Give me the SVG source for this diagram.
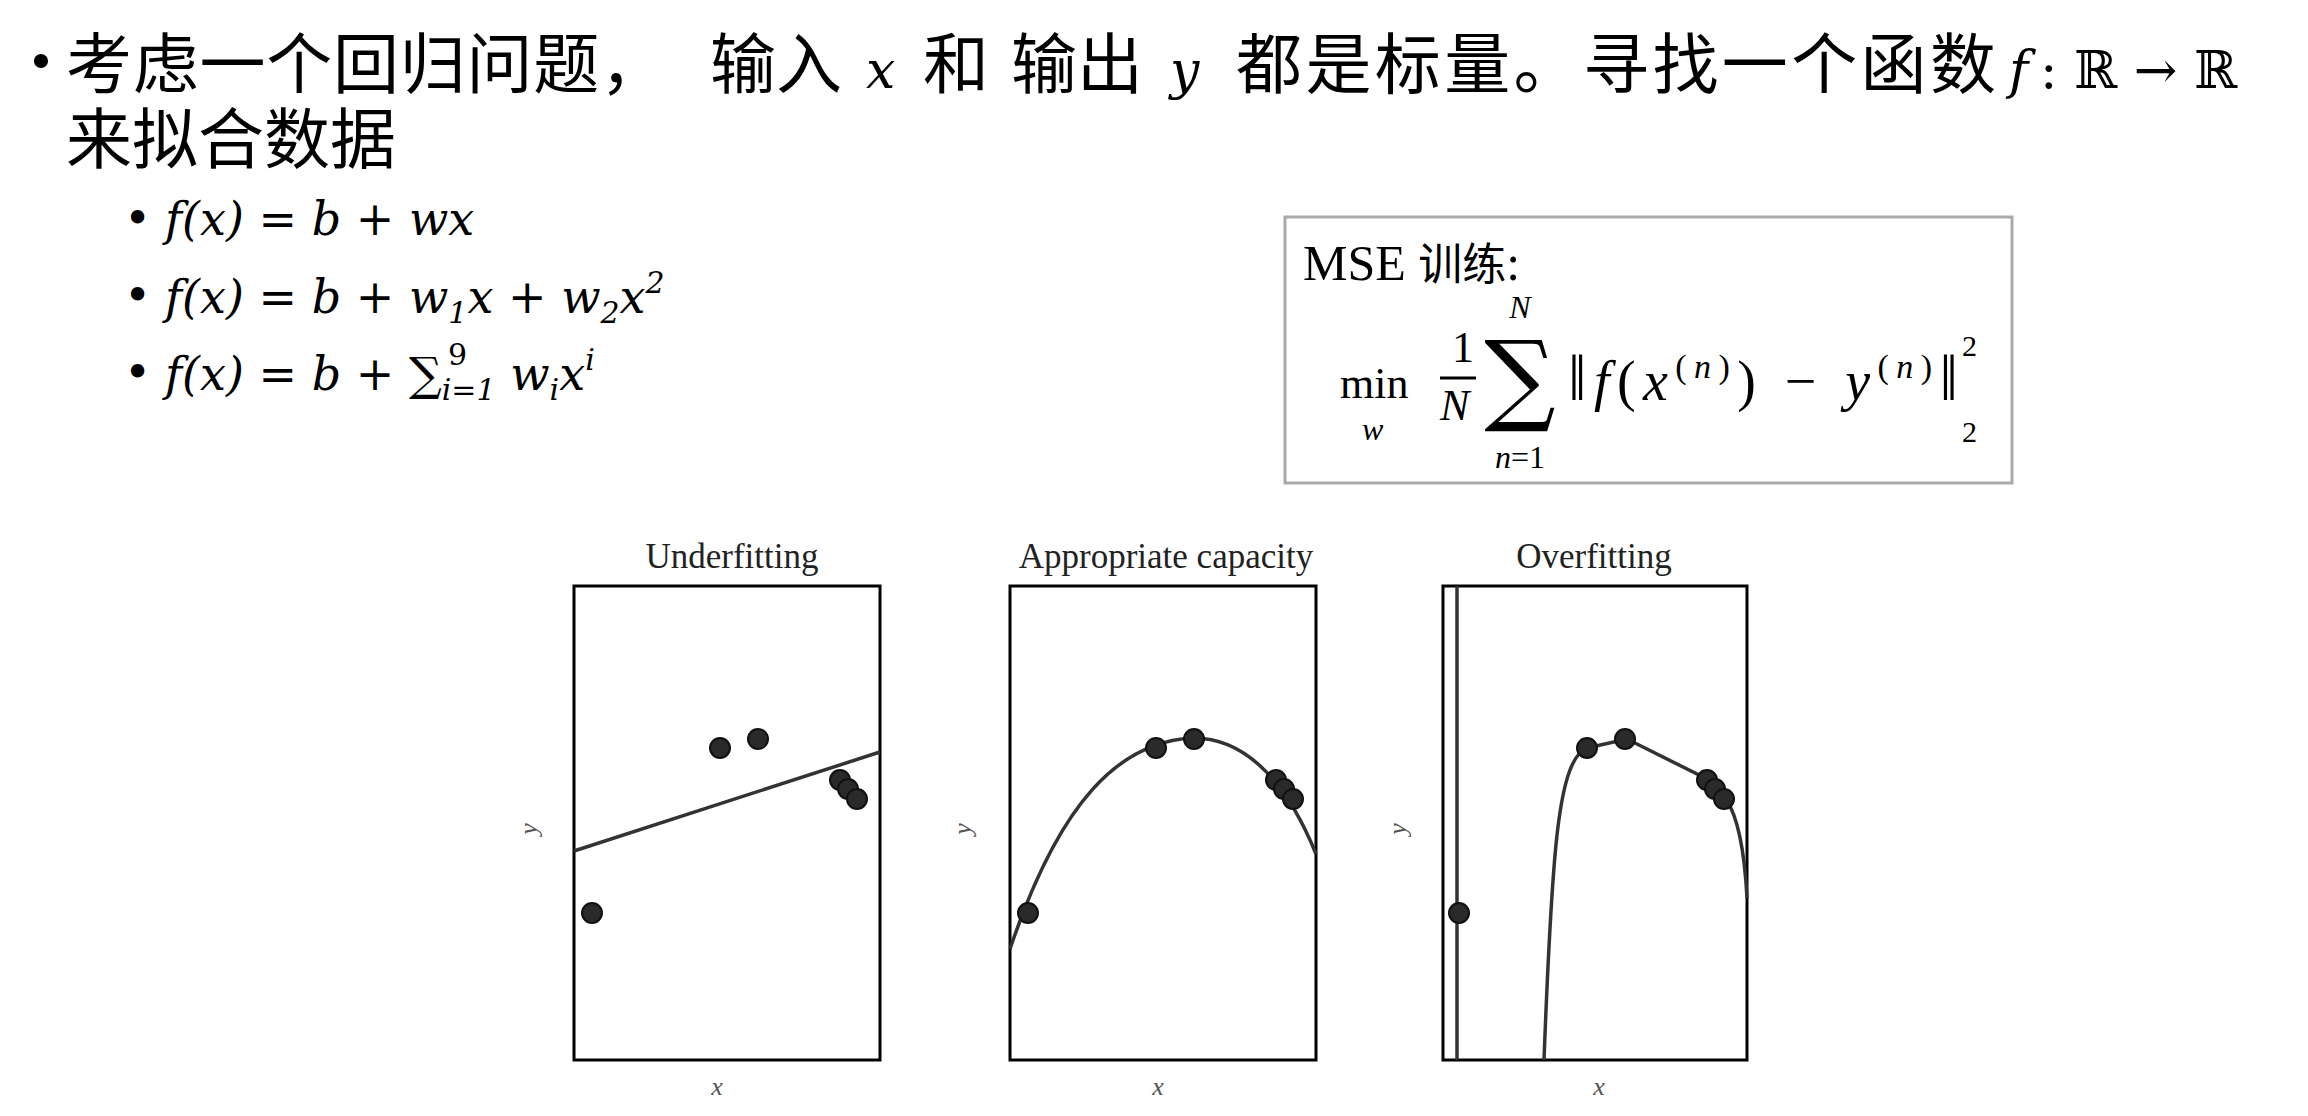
<svg xmlns="http://www.w3.org/2000/svg" width="2308" height="1116" viewBox="0 0 2308 1116">
<style>
.cjk{font-family:"Noto Sans CJK SC","Noto Sans",sans-serif;font-size:66px;fill:#000}
.m{font-family:"DejaVu Serif","Liberation Serif",serif;font-style:italic;fill:#000}
.mr{font-family:"DejaVu Serif","Liberation Serif",serif;fill:#000}
.s{font-family:"Liberation Serif",serif;fill:#000}
.t{font-family:"Liberation Serif",serif;font-size:35px;fill:#222;text-anchor:middle}
.lab{font-family:"Liberation Serif",serif;font-style:italic;font-size:26px;fill:#555;text-anchor:middle}
.frame{fill:#fff;stroke:#000;stroke-width:3}
.curve{fill:none;stroke:#333;stroke-width:3.5}
.pt{fill:#2a2a2a;stroke:#111;stroke-width:2}
</style>
<rect width="2308" height="1116" fill="#fff"/>
<g id="heading">
<text x="8" y="86" class="cjk" font-size="56">•</text>
<text x="66" y="88" class="cjk" textLength="600">考虑一个回归问题，</text>
<text x="710" y="88" class="cjk">输入</text>
<text x="866" y="88" class="m" font-size="52">x</text>
<text x="923" y="88" class="cjk">和</text>
<text x="1011" y="88" class="cjk">输出</text>
<text x="1170" y="88" class="m" font-size="52">y</text>
<text x="1236" y="88" class="cjk" textLength="760">都是标量。寻找一个函数</text>
<text x="2009" y="88" class="m" font-size="52">f</text>
<text x="2040" y="88" class="mr" font-size="52">: ℝ → ℝ</text>
<text x="66" y="163" class="cjk">来拟合数据</text>
</g>
<g id="formulas" font-size="46">
<text x="124" y="234" class="mr">•</text>
<text x="165" y="235" class="m">f<tspan class="mr">(</tspan>x<tspan class="mr">) = </tspan>b<tspan class="mr"> + </tspan>wx</text>
<text x="124" y="311" class="mr">•</text>
<text x="165" y="313" class="m">f<tspan class="mr">(</tspan>x<tspan class="mr">) = </tspan>b<tspan class="mr"> + </tspan>w<tspan class="mr" font-size="30" dy="10">1</tspan><tspan dy="-10">x</tspan><tspan class="mr"> + </tspan>w<tspan class="mr" font-size="30" dy="10">2</tspan><tspan dy="-10">x</tspan><tspan class="mr" font-size="30" dy="-20">2</tspan></text>
<text x="124" y="388" class="mr">•</text>
<text x="165" y="390" class="m">f<tspan class="mr">(</tspan>x<tspan class="mr">) = </tspan>b<tspan class="mr"> + ∑</tspan><tspan font-size="30" dy="10">i</tspan><tspan class="mr" font-size="30">=1</tspan><tspan font-size="46" dy="-10"> w</tspan><tspan font-size="30" dy="10">i</tspan><tspan dy="-10">x</tspan><tspan font-size="30" dy="-20">i</tspan></text>
<text x="448" y="365" class="mr" font-size="30">9</text>
</g>
<g id="mse-box">
<rect x="1285" y="217" width="727" height="266" fill="#fff" stroke="#aaa" stroke-width="3"/>
<text x="1303" y="280" class="s" font-size="50">MSE <tspan font-family="Noto Sans CJK SC,sans-serif" font-size="44">训练</tspan>:</text>
<text x="1340" y="398" class="s" font-size="44">min</text>
<text x="1362" y="440" class="s" font-style="italic" font-size="32">w</text>
<text x="1452" y="362" class="s" font-size="44">1</text>
<line x1="1440" y1="378" x2="1476" y2="378" stroke="#000" stroke-width="3"/>
<text x="1440" y="420" class="s" font-style="italic" font-size="44">N</text>
<text x="1520" y="318" class="s" font-style="italic" font-size="32" text-anchor="middle">N</text>
<text x="1520" y="412" class="mr" font-size="100" text-anchor="middle">∑</text>
<text x="1520" y="468" class="s" font-size="32" text-anchor="middle"><tspan font-style="italic">n</tspan>=1</text>
<text x="1568" y="400" class="s" font-size="56" textLength="390" lengthAdjust="spacing"><tspan font-size="66">‖</tspan><tspan font-style="italic">f</tspan>(<tspan font-style="italic">x</tspan><tspan font-size="34" dy="-22">(<tspan font-style="italic">n</tspan>)</tspan><tspan dy="22">) − </tspan><tspan font-style="italic">y</tspan><tspan font-size="34" dy="-22">(<tspan font-style="italic">n</tspan>)</tspan><tspan dy="22" font-size="66">‖</tspan></text>
<text x="1962" y="356" class="s" font-size="30">2</text>
<text x="1962" y="442" class="s" font-size="30">2</text>
</g>
<g id="panel-underfitting">
<text x="732" y="568" class="t">Underfitting</text>
<rect x="574" y="586" width="306" height="474" class="frame"/>
<text x="717" y="1095" class="lab">x</text>
<text x="537" y="829" class="lab" transform="rotate(-90 537 829)">y</text>
<line x1="574" y1="851" x2="880" y2="752" class="curve"/>
<circle cx="592" cy="913" r="10" class="pt"/>
<circle cx="720" cy="748" r="10" class="pt"/>
<circle cx="758" cy="739" r="10" class="pt"/>
<circle cx="840" cy="780" r="10" class="pt"/>
<circle cx="848" cy="789" r="10" class="pt"/>
<circle cx="857" cy="799" r="10" class="pt"/>
</g>
<g id="panel-appropriate">
<text x="1166" y="568" class="t">Appropriate capacity</text>
<rect x="1010" y="586" width="306" height="474" class="frame"/>
<text x="1158" y="1095" class="lab">x</text>
<text x="971" y="829" class="lab" transform="rotate(-90 971 829)">y</text>
<path d="M1010,949 C1060,800 1120,742 1192,738 C1250,737 1290,790 1316,854" class="curve"/>
<circle cx="1028" cy="913" r="10" class="pt"/>
<circle cx="1156" cy="748" r="10" class="pt"/>
<circle cx="1194" cy="739" r="10" class="pt"/>
<circle cx="1276" cy="780" r="10" class="pt"/>
<circle cx="1284" cy="789" r="10" class="pt"/>
<circle cx="1293" cy="799" r="10" class="pt"/>
</g>
<g id="panel-overfitting">
<text x="1594" y="568" class="t">Overfitting</text>
<rect x="1443" y="586" width="304" height="474" class="frame"/>
<text x="1599" y="1095" class="lab">x</text>
<text x="1406" y="829" class="lab" transform="rotate(-90 1406 829)">y</text>
<line x1="1457" y1="586" x2="1457" y2="1060" class="curve"/>
<path d="M1544,1060 C1552,850 1558,760 1587,748 L1627,739 L1709,780 L1726,799 C1740,820 1745,860 1747,898" class="curve"/>
<circle cx="1459" cy="913" r="10" class="pt"/>
<circle cx="1587" cy="748" r="10" class="pt"/>
<circle cx="1625" cy="739" r="10" class="pt"/>
<circle cx="1707" cy="780" r="10" class="pt"/>
<circle cx="1715" cy="789" r="10" class="pt"/>
<circle cx="1724" cy="799" r="10" class="pt"/>
</g>
</svg>
